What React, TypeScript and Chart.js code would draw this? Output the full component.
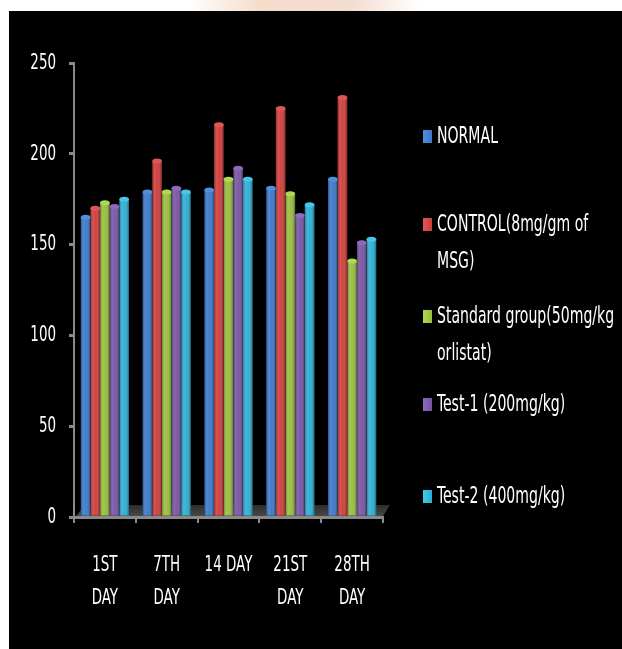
import React, { useEffect, useRef } from "react";
import { Chart, registerables } from "chart.js";

Chart.register(...registerables);

// ---- data ----
const categories: (string | string[])[] = [["1ST", "DAY"], ["7TH", "DAY"], "14 DAY", ["21ST", "DAY"], ["28TH", "DAY"]];
const seriesNames: string[][] = [
  ["NORMAL"],
  ["CONTROL(8mg/gm of", "MSG)"],
  ["Standard group(50mg/kg", "orlistat)"],
  ["Test-1 (200mg/kg)"],
  ["Test-2 (400mg/kg)"],
];
const normalValues = [165, 179, 180, 181, 186];
const controlValues = [170, 196, 216, 225, 231];
const standardValues = [173, 179, 186, 178, 141];
const test1Values = [171, 181, 192, 166, 151];
const test2Values = [175, 179, 186, 172, 153];
const yMin = 0;
const yMax = 250;
const yStep = 50;

// ---- styles ----
const barColors = ["#3a77c8", "#cf3b3b", "#97bd3d", "#7752a3", "#2aaed3"];
const capColors = ["#4f8fe0", "#e25555", "#addb4e", "#8d68bb", "#45c6ea"];
const FONT = "'DejaVu Sans Condensed', 'DejaVu Sans', sans-serif";
const AXIS_GREY = "#8a8a8a";
const CONDENSE = 0.68;

function condensedText(ctx: CanvasRenderingContext2D, text: string, x: number, y: number) {
  ctx.save();
  ctx.translate(x, y);
  ctx.scale(CONDENSE, 1);
  ctx.fillText(text, 0, 0);
  ctx.restore();
}

const floorPlugin = {
  id: "floor",
  beforeDatasetsDraw(chart: any) {
    const { ctx, chartArea } = chart;
    const { left, right, bottom } = chartArea;
    ctx.save();
    const g = ctx.createLinearGradient(0, bottom - 12, 0, bottom);
    g.addColorStop(0, "#2c2c2c");
    g.addColorStop(1, "#4a4a4a");
    ctx.fillStyle = g;
    ctx.beginPath();
    ctx.moveTo(left + 2, bottom - 1);
    ctx.lineTo(right, bottom - 1);
    ctx.lineTo(right + 7, bottom - 12);
    ctx.lineTo(left + 11, bottom - 12);
    ctx.closePath();
    ctx.fill();
    ctx.restore();
  },
};

const cylinderPlugin = {
  id: "cylinder",
  afterDatasetsDraw(chart: any) {
    const ctx = chart.ctx;
    ctx.save();
    chart.data.datasets.forEach((_ds: any, i: number) => {
      const meta = chart.getDatasetMeta(i);
      meta.data.forEach((bar: any) => {
        const { x, y, base, width } = bar.getProps(["x", "y", "base", "width"], true);
        const l = x - width / 2;
        const r = x + width / 2;
        const g = ctx.createLinearGradient(l, 0, r, 0);
        g.addColorStop(0, "rgba(0,0,0,0.3)");
        g.addColorStop(0.3, "rgba(255,255,255,0.12)");
        g.addColorStop(0.55, "rgba(255,255,255,0.04)");
        g.addColorStop(1, "rgba(0,0,0,0.4)");
        ctx.fillStyle = g;
        ctx.fillRect(l, y, width, base - y);
        ctx.beginPath();
        ctx.ellipse(x, y, width / 2, 2.5, 0, 0, Math.PI * 2);
        ctx.fillStyle = capColors[i];
        ctx.fill();
      });
    });
    ctx.restore();
  },
};

// draws the scales' own tick labels in a condensed face
const tickLabelPlugin = {
  id: "condensedTicks",
  afterDraw(chart: any) {
    const ctx = chart.ctx;
    const xs = chart.scales.x;
    const ys = chart.scales.y;
    ctx.save();
    ctx.fillStyle = "#ffffff";
    ctx.font = `22px ${FONT}`;
    ctx.textBaseline = "middle";
    // x
    ctx.textAlign = "center";
    xs.ticks.forEach((t: any, i: number) => {
      const px = xs.getPixelForTick(i);
      const lines = Array.isArray(t.label) ? t.label : [t.label];
      lines.forEach((line: string, k: number) => {
        condensedText(ctx, line, px, xs.top + 48 + k * 33);
      });
    });
    // y
    ctx.textAlign = "right";
    ys.ticks.forEach((t: any, i: number) => {
      const py = ys.getPixelForTick(i);
      condensedText(ctx, String(t.label), ys.right - 18, py);
    });
    ctx.restore();
  },
};

// legend item top-line centres (canvas px) and layout
const legendY = [126, 214, 306, 394, 486];
const legendLineGap = 37;
const legendMarkerX = 414;
const legendTextX = 428;

const legendPlugin = {
  id: "customLegend",
  afterDraw(chart: any) {
    const ctx = chart.ctx;
    ctx.save();
    ctx.font = `23px ${FONT}`;
    ctx.textBaseline = "middle";
    ctx.textAlign = "left";
    chart.data.datasets.forEach((ds: any, i: number) => {
      const y = legendY[i];
      const g = ctx.createLinearGradient(legendMarkerX, 0, legendMarkerX + 9, 0);
      g.addColorStop(0, capColors[i]);
      g.addColorStop(1, barColors[i]);
      ctx.fillStyle = g;
      ctx.fillRect(legendMarkerX, y - 7, 9, 13);
      ctx.fillStyle = "#ffffff";
      const lines: string[] = ds.legendLines;
      lines.forEach((line: string, k: number) => {
        condensedText(ctx, line, legendTextX, y + k * legendLineGap);
      });
    });
    ctx.restore();
  },
};

export default function App() {
  const canvasRef = useRef<HTMLCanvasElement | null>(null);

  useEffect(() => {
    if (!canvasRef.current) return;
    const seriesValues = [normalValues, controlValues, standardValues, test1Values, test2Values];
    const chart = new Chart(canvasRef.current, {
      type: "bar",
      data: {
        labels: categories,
        datasets: seriesValues.map((vals, i) => ({
          label: seriesNames[i].join(" "),
          legendLines: seriesNames[i],
          data: vals,
          backgroundColor: barColors[i],
          borderWidth: 0,
          categoryPercentage: 0.78,
          barPercentage: 1.0,
        })) as any,
      },
      options: {
        responsive: false,
        animation: false,
        devicePixelRatio: 1,
        layout: { padding: { top: 52, right: 239, left: 0, bottom: 0 } },
        plugins: {
          legend: { display: false },
          tooltip: { enabled: false },
          title: { display: false },
        },
        scales: {
          x: {
            grid: {
              display: true,
              drawOnChartArea: false,
              drawTicks: true,
              tickLength: 6,
              color: AXIS_GREY,
              lineWidth: 2,
              offset: true,
            },
            border: { display: true, color: AXIS_GREY, width: 3 },
            ticks: {
              color: "rgba(0,0,0,0)",
              font: { family: FONT, size: 18, lineHeight: 1.83 },
              padding: 25,
              maxRotation: 0,
              autoSkip: false,
            },
            afterFit: (s: any) => {
              s.height = 132;
            },
          },
          y: {
            min: yMin,
            max: yMax,
            ticks: {
              stepSize: yStep,
              color: "rgba(0,0,0,0)",
              font: { family: FONT, size: 18 },
              padding: 13,
            },
            grid: {
              display: true,
              drawOnChartArea: false,
              drawTicks: true,
              tickLength: 5,
              color: AXIS_GREY,
              lineWidth: 3,
            },
            border: { display: true, color: AXIS_GREY, width: 2 },
            afterFit: (s: any) => {
              s.width = 65;
            },
          },
        },
      },
      plugins: [floorPlugin, cylinderPlugin, tickLabelPlugin, legendPlugin],
    });
    return () => chart.destroy();
  }, []);

  return (
    <div style={{ position: "absolute", left: 0, top: 0, width: 622, height: 649, background: "#ffffff", overflow: "hidden" }}>
      <div
        style={{
          position: "absolute",
          left: 190,
          top: 0,
          width: 230,
          height: 11,
          background: "linear-gradient(90deg, #ffffff, #f6dccb 30%, #f3ddd0 70%, #ffffff)",
        }}
      />
      <div style={{ position: "absolute", left: 9, top: 11, width: 613, height: 638, background: "#000000" }}>
        <canvas ref={canvasRef} width={613} height={638} style={{ display: "block", width: 613, height: 638 }} />
      </div>
    </div>
  );
}
